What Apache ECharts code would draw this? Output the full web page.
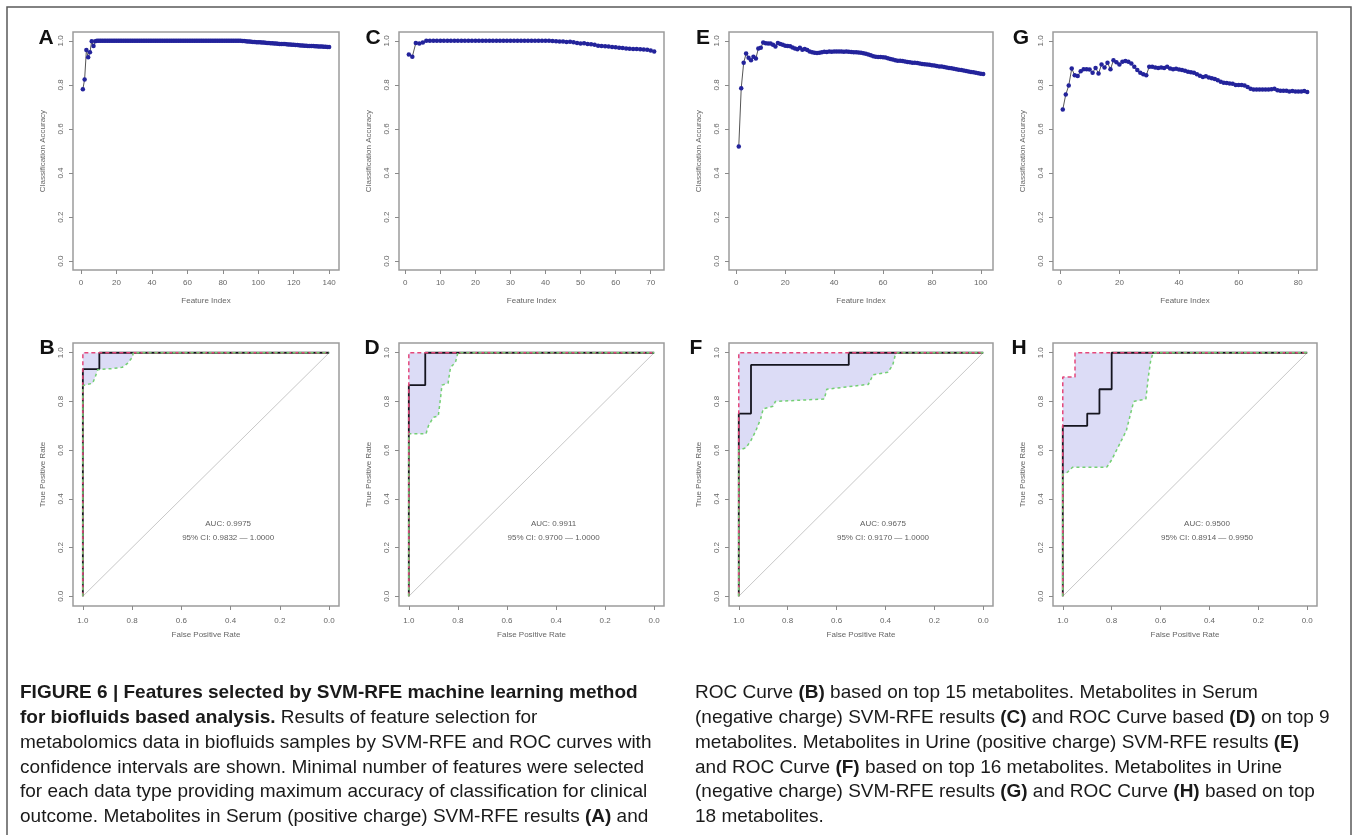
<!DOCTYPE html>
<html>
<head>
<meta charset="utf-8">
<script src="https://cdn.jsdelivr.net/npm/echarts@6/dist/echarts.min.js"></script>
<style>
    html, body { margin: 0; padding: 0; background: #fff; }
    #chart { width: 1357px; height: 835px; }
</style>
</head>
<body>
<div id="chart"></div>
<script>
const FONT = "'Liberation Sans', Arial, sans-serif";

// SVM-RFE classification accuracy, feature index 1..n
const accA = [
    0.78, 0.825, 0.958, 0.925, 0.948, 0.998, 0.977, 0.998, 1, 1,
    1, 1, 1, 1, 1, 1, 1, 1, 1, 1,
    1, 1, 1, 1, 1, 1, 1, 1, 1, 1,
    1, 1, 1, 1, 1, 1, 1, 1, 1, 1,
    1, 1, 1, 1, 1, 1, 1, 1, 1, 1,
    1, 1, 1, 1, 1, 1, 1, 1, 1, 1,
    1, 1, 1, 1, 1, 1, 1, 1, 1, 1,
    1, 1, 1, 1, 1, 1, 1, 1, 1, 1,
    1, 1, 1, 1, 1, 1, 1, 1, 1, 1,
    0.999, 0.999, 0.998, 0.997, 0.997, 0.996, 0.995, 0.995, 0.994, 0.993,
    0.993, 0.992, 0.992, 0.991, 0.99, 0.99, 0.989, 0.989, 0.988, 0.988,
    0.987, 0.986, 0.986, 0.985, 0.985, 0.984, 0.983, 0.983, 0.982, 0.982,
    0.981, 0.981, 0.98, 0.979, 0.979, 0.978, 0.978, 0.977, 0.977, 0.976,
    0.976, 0.975, 0.975, 0.974, 0.974, 0.974, 0.973, 0.973, 0.972, 0.972
];
const accC = [
    0.938, 0.928, 0.99, 0.988, 0.992, 1, 1, 1, 1, 1,
    1, 1, 1, 1, 1, 1, 1, 1, 1, 1,
    1, 1, 1, 1, 1, 1, 1, 1, 1, 1,
    1, 1, 1, 1, 1, 1, 1, 1, 1, 1,
    1, 0.999, 0.998, 0.997, 0.997, 0.995, 0.996, 0.993, 0.99, 0.988,
    0.989, 0.985, 0.984, 0.982, 0.978, 0.977, 0.975, 0.974, 0.972, 0.971,
    0.968, 0.967, 0.965, 0.964, 0.963, 0.963, 0.962, 0.961, 0.959, 0.956,
    0.952
];
const accE = [
    0.52, 0.785, 0.9, 0.942, 0.923, 0.912, 0.928, 0.92, 0.965, 0.969,
    0.992, 0.989, 0.988, 0.988, 0.982, 0.974, 0.99, 0.985, 0.982, 0.978,
    0.977, 0.975, 0.97, 0.965, 0.962, 0.968, 0.96, 0.963, 0.958, 0.952,
    0.948, 0.946, 0.945, 0.946, 0.948, 0.95, 0.949, 0.951, 0.95, 0.951,
    0.952, 0.951, 0.951, 0.95, 0.951, 0.95, 0.949, 0.948, 0.948, 0.947,
    0.946, 0.944, 0.941, 0.938, 0.934, 0.93, 0.928, 0.927, 0.926, 0.925,
    0.924, 0.921, 0.918, 0.915, 0.912, 0.91, 0.909, 0.908, 0.906, 0.904,
    0.903, 0.901, 0.9, 0.899, 0.897, 0.895, 0.894, 0.892, 0.891, 0.889,
    0.888, 0.886, 0.884, 0.883, 0.881, 0.879, 0.877, 0.875, 0.873, 0.871,
    0.869, 0.867, 0.865, 0.863, 0.861, 0.859, 0.857, 0.855, 0.853, 0.851,
    0.849
];
const accG = [
    0.688, 0.756, 0.797, 0.874, 0.844, 0.84, 0.862, 0.871, 0.871, 0.87,
    0.855, 0.877, 0.852, 0.892, 0.879, 0.9, 0.871, 0.912, 0.903, 0.892,
    0.905, 0.908, 0.905, 0.897, 0.882, 0.867, 0.855, 0.848, 0.844, 0.882,
    0.882, 0.879, 0.877, 0.879, 0.877, 0.882, 0.874, 0.871, 0.873, 0.87,
    0.867, 0.864, 0.86, 0.857, 0.855, 0.848, 0.842, 0.836, 0.839, 0.833,
    0.83, 0.827, 0.821, 0.814, 0.81, 0.809, 0.806, 0.805, 0.8, 0.8,
    0.8, 0.797, 0.79, 0.783, 0.779, 0.779, 0.779, 0.779, 0.779, 0.779,
    0.78, 0.782, 0.776, 0.773, 0.773, 0.773, 0.77, 0.772, 0.77, 0.77,
    0.77, 0.772, 0.768
];

const ticksA = [0, 20, 40, 60, 80, 100, 120, 140];
const ticksC = [0, 10, 20, 30, 40, 50, 60, 70];
const ticksE = [0, 20, 40, 60, 80, 100];
const ticksG = [0, 20, 40, 60, 80];
const unitTicks = [0, 0.2, 0.4, 0.6, 0.8, 1.0];

// ROC curves: [specificity, sensitivity]
const rocB = [[1, 0], [1, 0.933], [0.933, 0.933], [0.933, 1], [0, 1]];
const upperB = [[1, 0], [1, 1], [0, 1]];
const lowerB = [[1, 0], [1, 0.865], [0.98, 0.87], [0.96, 0.875], [0.95, 0.9], [0.94, 0.93], [0.92, 0.932],
    [0.88, 0.935], [0.84, 0.94], [0.82, 0.955], [0.8, 0.98], [0.795, 1], [0, 1]];

const rocD = [[1, 0], [1, 0.867], [0.933, 0.867], [0.933, 1], [0, 1]];
const upperD = [[1, 0], [1, 1], [0, 1]];
const lowerD = [[1, 0], [1, 0.667], [0.93, 0.667], [0.92, 0.7], [0.9, 0.735], [0.88, 0.74], [0.87, 0.82],
    [0.865, 0.867], [0.84, 0.875], [0.83, 0.94], [0.81, 0.96], [0.8, 1], [0, 1]];

const rocF = [[1, 0], [1, 0.75], [0.95, 0.75], [0.95, 0.95], [0.55, 0.95], [0.55, 1], [0, 1]];
const upperF = [[1, 0], [1, 1], [0, 1]];
const lowerF = [[1, 0], [1, 0.6], [0.97, 0.61], [0.95, 0.64], [0.93, 0.68], [0.91, 0.73], [0.9, 0.77],
    [0.86, 0.78], [0.85, 0.8], [0.65, 0.81], [0.64, 0.85], [0.47, 0.87], [0.45, 0.91], [0.39, 0.92],
    [0.37, 0.95], [0.36, 0.99], [0.35, 1], [0, 1]];

const rocH = [[1, 0], [1, 0.7], [0.9, 0.7], [0.9, 0.75], [0.85, 0.75], [0.85, 0.85], [0.8, 0.85], [0.8, 1], [0, 1]];
const upperH = [[1, 0], [1, 0.9], [0.95, 0.9], [0.95, 1], [0, 1]];
const lowerH = [[1, 0], [1, 0.5], [0.98, 0.51], [0.96, 0.53], [0.82, 0.53], [0.8, 0.56], [0.78, 0.6],
    [0.76, 0.64], [0.74, 0.68], [0.73, 0.72], [0.72, 0.76], [0.71, 0.8], [0.66, 0.81], [0.65, 0.9],
    [0.64, 0.97], [0.63, 1], [0, 1]];

const chanceLine = [[1, 0], [0, 1]];
const aucTexts = [
    "AUC: 0.9975\n95% CI: 0.9832 \u2014 1.0000",
    "AUC: 0.9911\n95% CI: 0.9700 \u2014 1.0000",
    "AUC: 0.9675\n95% CI: 0.9170 \u2014 1.0000",
    "AUC: 0.9500\n95% CI: 0.8914 \u2014 0.9950"
];
const aucAt = [0.41, 0.27];

const captionLeft = [
    "{b|FIGURE 6 | Features selected by SVM-RFE machine learning method}",
    "{b|for biofluids based analysis.} Results of feature selection for",
    "metabolomics data in biofluids samples by SVM-RFE and ROC curves with",
    "confidence intervals are shown. Minimal number of features were selected",
    "for each data type providing maximum accuracy of classification for clinical",
    "outcome. Metabolites in Serum (positive charge) SVM-RFE results {b|(A)} and"
];
const captionRight = [
    "ROC Curve {b|(B)} based on top 15 metabolites. Metabolites in Serum",
    "(negative charge) SVM-RFE results {b|(C)} and ROC Curve based {b|(D)} on top 9",
    "metabolites. Metabolites in Urine (positive charge) SVM-RFE results {b|(E)}",
    "and ROC Curve {b|(F)} based on top 16 metabolites. Metabolites in Urine",
    "(negative charge) SVM-RFE results {b|(G)} and ROC Curve {b|(H)} based on top",
    "18 metabolites."
];

// layout
const colLeft = [73, 399, 729, 1053];
const colWidth = [266, 265, 264, 264];
const topRow = { top: 32, height: 238 };
const bottomRow = { top: 343, height: 263 };

const accPanels = [
    { letter: "A", data: accA, ticks: ticksA, lx: 46 },
    { letter: "C", data: accC, ticks: ticksC, lx: 373 },
    { letter: "E", data: accE, ticks: ticksE, lx: 703 },
    { letter: "G", data: accG, ticks: ticksG, lx: 1021 }
];
const rocPanels = [
    { letter: "B", roc: rocB, upper: upperB, lower: lowerB, lx: 47 },
    { letter: "D", roc: rocD, upper: upperD, lower: lowerD, lx: 372 },
    { letter: "F", roc: rocF, upper: upperF, lower: lowerF, lx: 696 },
    { letter: "H", roc: rocH, upper: upperH, lower: lowerH, lx: 1019 }
];

const tickColor = "#8a8a8a";
const labelColor = "#666";

function makeAxis(gridIndex, min, max, ticks, name, isY, extra) {
    let axis = {
        type: "value",
        gridIndex: gridIndex,
        min: min,
        max: max,
        name: name,
        nameLocation: "middle",
        nameGap: isY ? 26 : 27,
        nameTextStyle: { fontSize: 8, color: labelColor, fontFamily: FONT },
        axisLine: { show: false, onZero: false },
        axisTick: { show: true, length: 4, lineStyle: { color: tickColor }, customValues: ticks },
        axisLabel: {
            customValues: ticks,
            fontSize: 8,
            color: labelColor,
            fontFamily: FONT,
            margin: isY ? 8 : 9,
            rotate: isY ? 90 : 0
        },
        splitLine: { show: false }
    };
    return Object.assign(axis, extra || {});
}

let grids = [];
let xAxis = [];
let yAxis = [];
let series = [];
let graphics = [];

accPanels.forEach((p, i) => {
    const n = p.data.length;
    const pad = 0.04 * (n - 1);
    grids.push({
        left: colLeft[i], top: topRow.top, width: colWidth[i], height: topRow.height,
        show: true, borderColor: "#9c9c9c", borderWidth: 1.5, backgroundColor: "#fff"
    });
    let xa = makeAxis(i, 1 - pad, n + pad, p.ticks, "Feature Index", false);
    xa.axisLabel.formatter = v => String(v);
    xAxis.push(xa);
    let ya = makeAxis(i, -0.04, 1.04, unitTicks, "Classification Accuracy", true);
    ya.axisLabel.formatter = v => v.toFixed(1);
    yAxis.push(ya);
    series.push({
        type: "line",
        xAxisIndex: i,
        yAxisIndex: i,
        data: p.data.map((v, k) => [k + 1, v]),
        symbol: "circle",
        symbolSize: 4.5,
        showSymbol: true,
        itemStyle: { color: "#23239b" },
        lineStyle: { color: "#555", width: 1 },
        silent: true
    });
    graphics.push({
        type: "text", x: p.lx, y: 38,
        style: { text: p.letter, font: "bold 21px " + FONT, fill: "#111", align: "center", verticalAlign: "middle" }
    });
});

rocPanels.forEach((p, j) => {
    const i = j + 4;
    grids.push({
        left: colLeft[j], top: bottomRow.top, width: colWidth[j], height: bottomRow.height,
        show: true, borderColor: "#9c9c9c", borderWidth: 1.5, backgroundColor: "#fff"
    });
    let xa = makeAxis(i, -0.04, 1.04, unitTicks, "False Positive Rate", false, { inverse: true });
    xa.axisLabel.formatter = v => v.toFixed(1);
    xa.axisLabel.margin = 11;
    xa.nameGap = 25;
    xAxis.push(xa);
    let ya = makeAxis(i, -0.04, 1.04, unitTicks, "True Positive Rate", true);
    ya.axisLabel.formatter = v => v.toFixed(1);
    yAxis.push(ya);

    const band = p.upper.concat(p.lower.slice().reverse());
    series.push({
        type: "custom",
        xAxisIndex: i,
        yAxisIndex: i,
        data: [0],
        silent: true,
        renderItem: (params, api) => ({
            type: "polygon",
            shape: { points: band.map(pt => api.coord(pt)) },
            style: { fill: "#dcdcf6" }
        }),
        z: 1
    });
    series.push({
        type: "line", xAxisIndex: i, yAxisIndex: i, data: chanceLine, symbol: "none",
        lineStyle: { color: "#c8c8c8", width: 1 }, silent: true, z: 2
    });
    series.push({
        type: "line", xAxisIndex: i, yAxisIndex: i, data: p.roc, symbol: "none",
        lineStyle: { color: "#15151f", width: 1.8 }, silent: true, z: 3
    });
    series.push({
        type: "line", xAxisIndex: i, yAxisIndex: i, data: p.upper, symbol: "none",
        lineStyle: { color: "#e4487c", width: 1.5, type: [4, 3] }, silent: true, z: 4
    });
    series.push({
        type: "line", xAxisIndex: i, yAxisIndex: i, data: p.lower, symbol: "none",
        lineStyle: { color: "#74cf74", width: 1.5, type: [3, 3] }, silent: true, z: 5
    });
    series.push({
        type: "scatter", xAxisIndex: i, yAxisIndex: i, data: [aucAt], symbolSize: 1,
        itemStyle: { color: "transparent" }, silent: true, z: 6,
        label: {
            show: true, position: "inside", formatter: aucTexts[j],
            fontSize: 8, lineHeight: 14, color: "#333", fontFamily: FONT
        }
    });
    graphics.push({
        type: "text", x: p.lx, y: 348,
        style: { text: p.letter, font: "bold 21px " + FONT, fill: "#111", align: "center", verticalAlign: "middle" }
    });
});

// outer frame
graphics.push({
    type: "rect",
    shape: { x: 7, y: 7, width: 1344, height: 860 },
    style: { fill: "none", stroke: "#5a5a5a", lineWidth: 1.5 }
});

// caption
const captionRich = { b: { font: "bold 19px " + FONT, fill: "#1a1a1a" } };
captionLeft.forEach((line, k) => {
    graphics.push({
        type: "text", x: 20, y: 693 + k * 24.8,
        style: { text: line, font: "19px " + FONT, fill: "#1a1a1a", verticalAlign: "middle", rich: captionRich }
    });
});
captionRight.forEach((line, k) => {
    graphics.push({
        type: "text", x: 695, y: 693 + k * 24.8,
        style: { text: line, font: "19px " + FONT, fill: "#1a1a1a", verticalAlign: "middle", rich: captionRich }
    });
});

const chart = echarts.init(document.getElementById("chart"));
chart.setOption({
    animation: false,
    backgroundColor: "#fff",
    grid: grids,
    xAxis: xAxis,
    yAxis: yAxis,
    series: series,
    graphic: graphics
});
</script>
</body>
</html>
